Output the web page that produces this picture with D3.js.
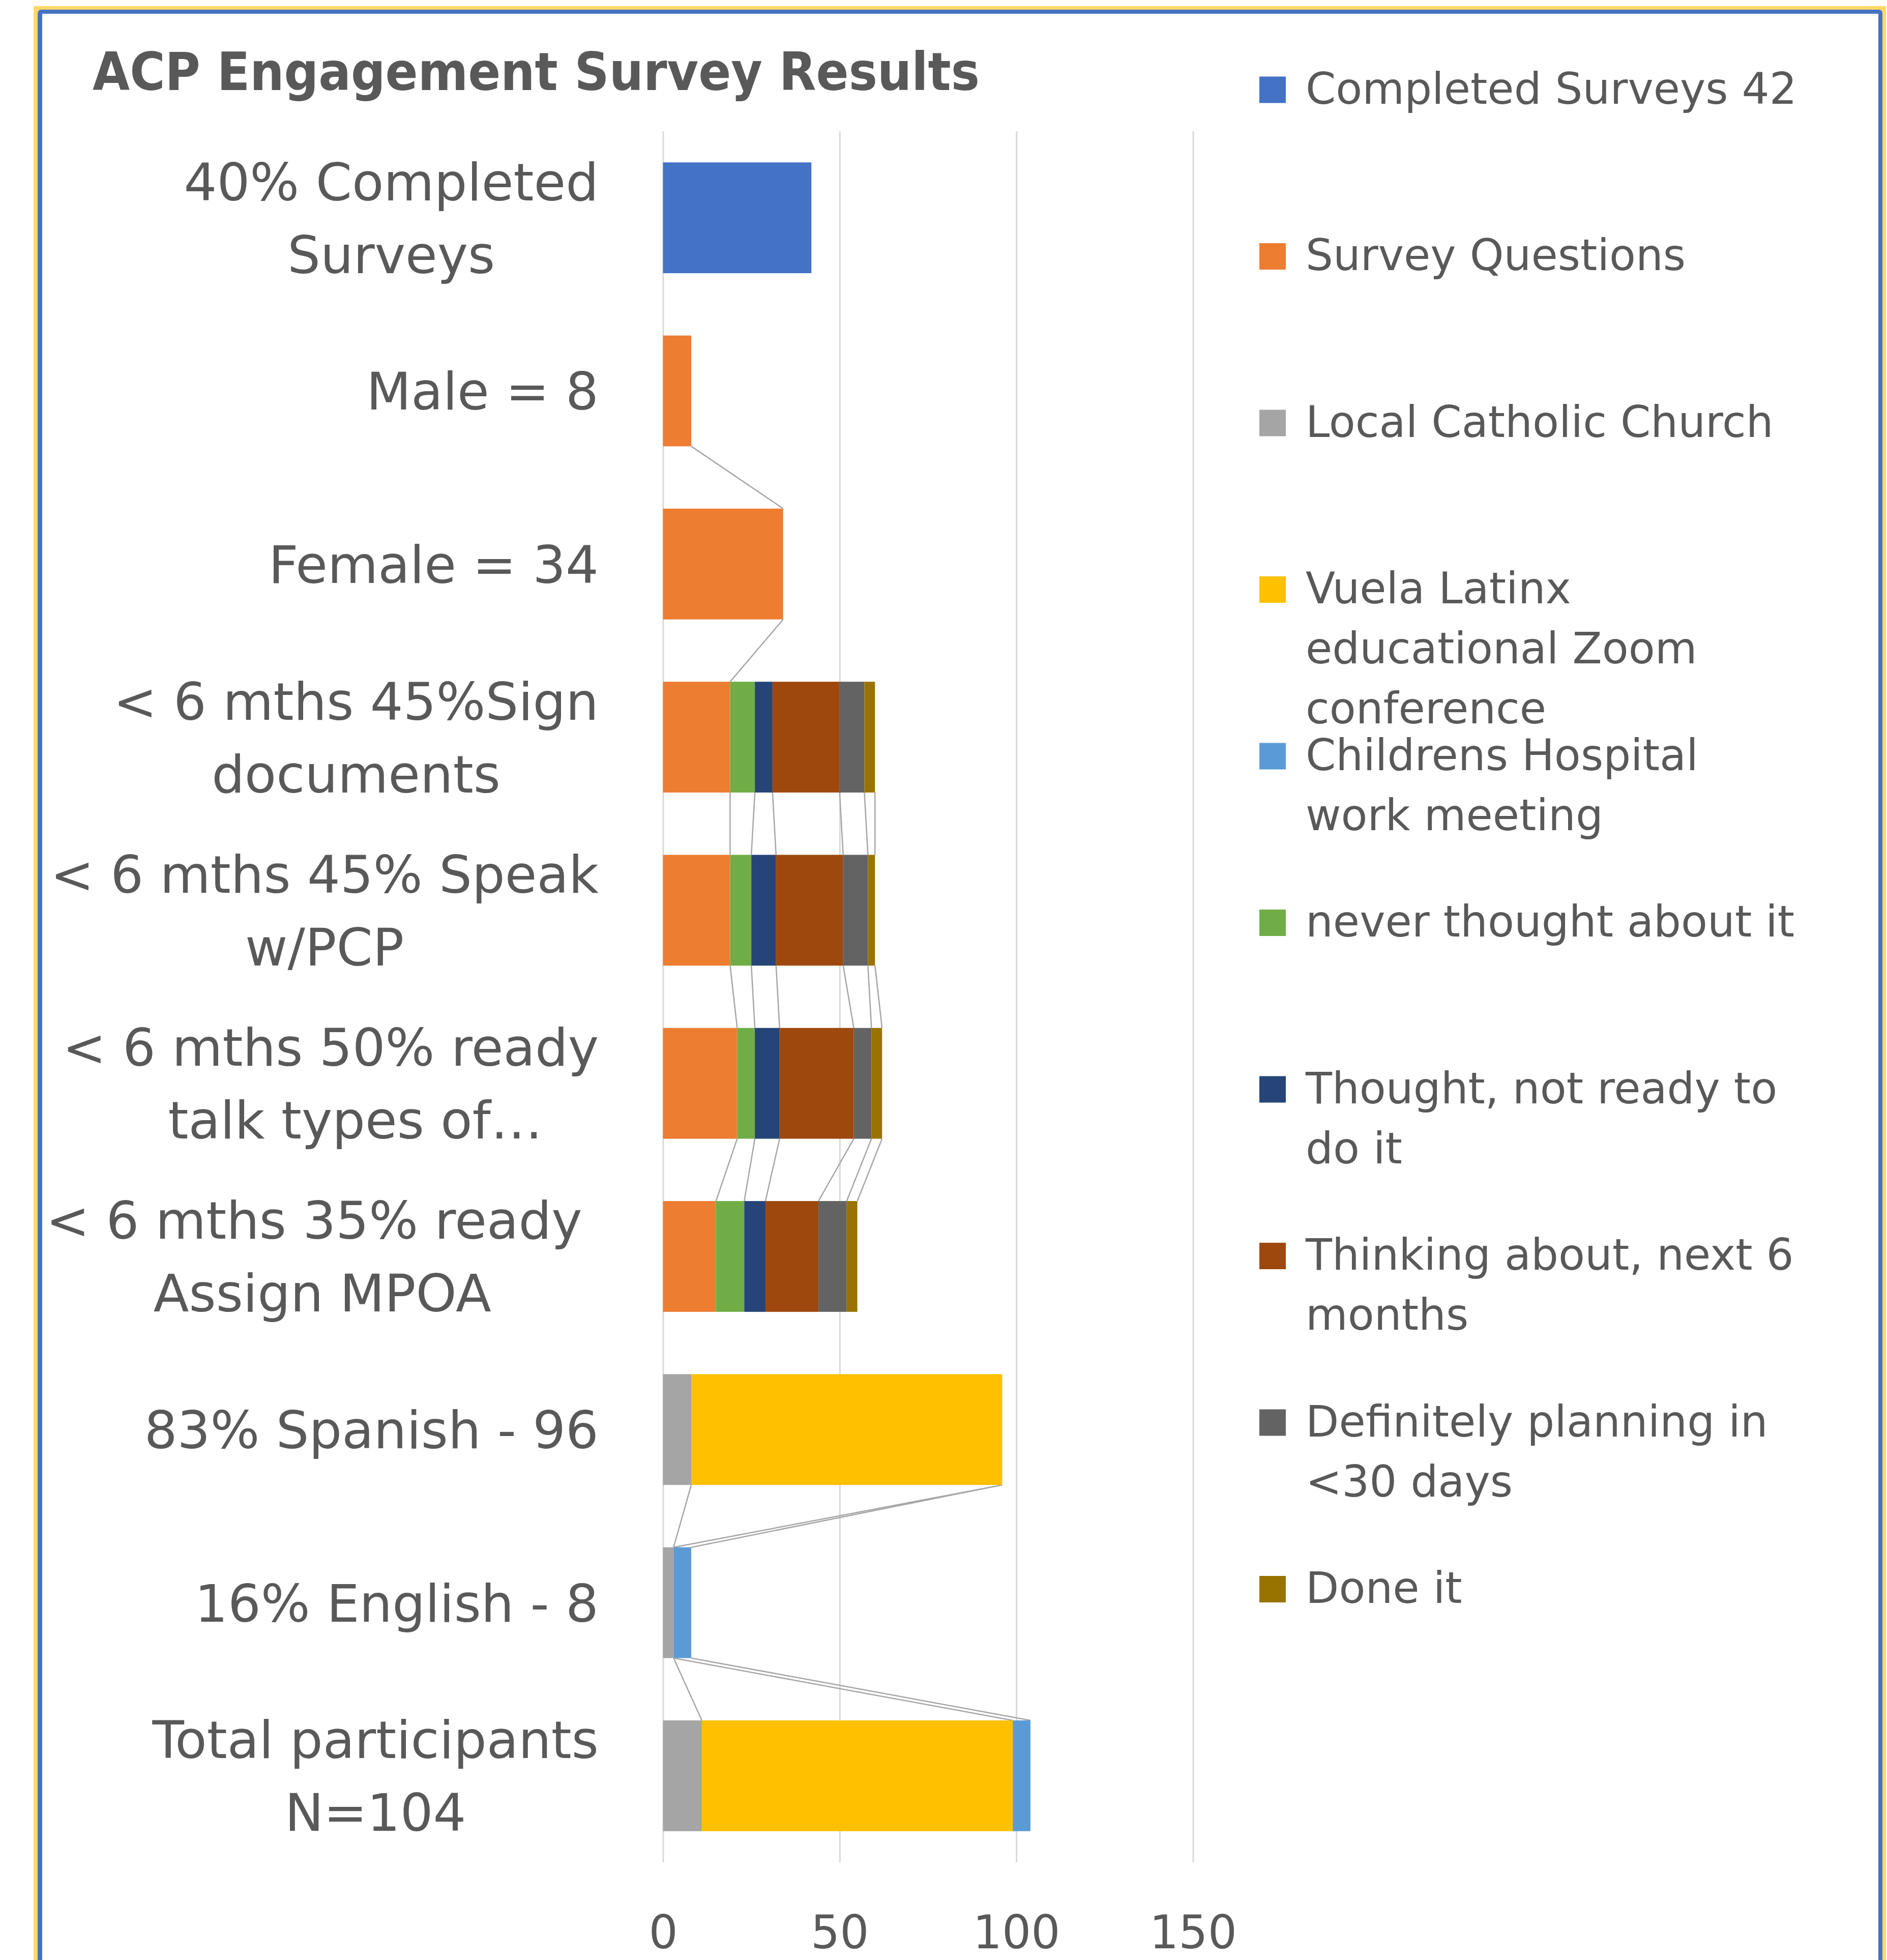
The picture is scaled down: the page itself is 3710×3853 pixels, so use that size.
<!DOCTYPE html>
<html><head><meta charset="utf-8">
<script src="https://cdn.jsdelivr.net/npm/d3@7"></script>
<style>html,body{margin:0;padding:0;background:#fff;}</style>
</head><body>
<script>
// ---- data ----
const categories = ["40% Completed Surveys","Male = 8","Female = 34","< 6 mths 45%Sign documents","< 6 mths 45% Speak w/PCP","< 6 mths 50% ready talk types of…","< 6 mths 35% ready Assign MPOA","83% Spanish - 96","16% English - 8","Total participants N=104"];
const categoryLines = [["40% Completed","Surveys"],["Male = 8"],["Female = 34"],["< 6 mths 45%Sign","documents"],["< 6 mths 45% Speak","w/PCP"],["< 6 mths 50% ready","\u00a0\u00a0\u00a0talk types of…"],["< 6 mths 35% ready\u00a0","Assign MPOA"],["83% Spanish - 96"],["16% English - 8"],["Total participants","N=104"]];
const seriesNames = ["Completed Surveys 42","Survey Questions","Local Catholic Church","Vuela Latinx educational Zoom conference","Childrens Hospital work meeting","never thought about it","Thought, not ready to do it","Thinking about, next 6 months","Definitely planning in <30 days","Done it"];
const legendLines = [["Completed Surveys 42"],["Survey Questions"],["Local Catholic Church"],["Vuela Latinx","educational Zoom","conference"],["Childrens Hospital","work meeting"],["never thought about it"],["Thought, not ready to","do it"],["Thinking about, next 6","months"],["Definitely planning in","<30 days"],["Done it"]];
const seriesColors = ["#4472C4","#ED7D31","#A5A5A5","#FFC000","#5B9BD5","#70AD47","#264478","#9E480E","#636363","#997300"];
const completed  = [42,null,null,null,null,null,null,null,null,null];
const surveyQ    = [null,8,34,19,19,21,15,null,null,null];
const catholic   = [null,null,null,null,null,null,null,8,3,11];
const vuela      = [null,null,null,null,null,null,null,88,0,88];
const childrens  = [null,null,null,null,null,null,null,0,5,5];
const neverThought = [null,null,null,7,6,5,8,null,null,null];
const thoughtNotReady = [null,null,null,5,7,7,6,null,null,null];
const thinking   = [null,null,null,19,19,21,15,null,null,null];
const definitely = [null,null,null,7,7,5,8,null,null,null];
const doneIt     = [null,null,null,3,2,3,3,null,null,null];
const xTicks = [0,50,100,150];
const title = "ACP Engagement Survey Results";

const seriesValues = [completed,surveyQ,catholic,vuela,childrens,neverThought,thoughtNotReady,thinking,definitely,doneIt];

// ---- layout ----
const W = 3710, H = 3853;
const FONT = "DejaVu Sans";
const TXT = "#595959";
const svg = d3.select("body").append("svg").attr("width",W).attr("height",H);

// border frame
svg.append("rect").attr("x",66).attr("y",12).attr("width",3642).attr("height",4200).attr("fill","#FFD966");
svg.append("rect").attr("x",74).attr("y",19).attr("width",3627).attr("height",4200).attr("rx",7).attr("fill","#4472C4");
svg.append("rect").attr("x",83).attr("y",27).attr("width",3610).attr("height",4200).attr("fill","#fff");

const plotTop = 258, plotBottom = 3661;
const x = d3.scaleLinear().domain([0,150]).range([1303.5,2345.5]);
const y = d3.scaleBand().domain(categories).range([plotTop,plotBottom]).paddingInner(0.36).paddingOuter(0.18);
const bw = y.bandwidth();

// gridlines + tick labels
const ax = svg.append("g").attr("transform",`translate(0,${plotBottom})`)
  .call(d3.axisBottom(x).tickValues(xTicks).tickSize(-(plotBottom-plotTop)).tickFormat(d3.format("d")));
ax.select(".domain").remove();
ax.selectAll(".tick line").attr("stroke","#d9d9d9").attr("stroke-width",3);
ax.selectAll(".tick text").attr("y",169).attr("dy",0).attr("fill",TXT)
  .attr("font-family",FONT).attr("font-size",90);

// stacked data
const n = categories.length;
const starts = [], ends = [];
for (let k=0;k<seriesValues.length;k++){ starts.push([]); ends.push([]); }
for (let i=0;i<n;i++){
  let acc = 0;
  for (let k=0;k<seriesValues.length;k++){
    const v = seriesValues[k][i];
    starts[k][i] = acc;
    acc += (v==null?0:v);
    ends[k][i] = acc;
  }
}

// series lines
const lineG = svg.append("g");
for (let k=0;k<seriesValues.length;k++){
  for (let i=0;i<n-1;i++){
    if (seriesValues[k][i]!=null && seriesValues[k][i+1]!=null){
      lineG.append("line")
        .attr("x1",x(ends[k][i])).attr("y1",y(categories[i])+bw)
        .attr("x2",x(ends[k][i+1])).attr("y2",y(categories[i+1]))
        .attr("stroke","#a6a6a6").attr("stroke-width",2.5);
    }
  }
}

// bars
const barG = svg.append("g");
for (let k=0;k<seriesValues.length;k++){
  const g = barG.append("g").attr("fill",seriesColors[k]);
  categories.forEach((c,i)=>{
    const v = seriesValues[k][i];
    if (v==null || v===0) return;
    g.append("rect").attr("x",x(starts[k][i])).attr("y",y(c))
      .attr("width",x(ends[k][i])-x(starts[k][i])).attr("height",bw);
  });
}

// category labels (right-aligned block, centered lines)
const labelRight = 1177, labelFS = 102, labelLH = 143;
categories.forEach((c,i)=>{
  const lines = categoryLines[i];
  const cy = y(c)+bw/2;
  const g = svg.append("g");
  const texts = lines.map((ln,j)=> g.append("text").text(ln)
      .attr("font-family",FONT).attr("font-size",labelFS).attr("fill",TXT)
      .attr("text-anchor","middle").style("white-space","pre")
      .attr("y", cy - (lines.length-1)*labelLH/2 + j*labelLH + 37));
  const maxW = d3.max(texts, t=>t.node().getComputedTextLength());
  texts.forEach(t=>t.attr("x", labelRight - maxW/2));
});

// title
svg.append("text").text(title).attr("x",182).attr("y",177)
  .attr("font-family",FONT).attr("font-weight","bold").attr("font-size",103)
  .attr("textLength",1744).attr("lengthAdjust","spacingAndGlyphs").attr("fill",TXT);

// legend
const legX = 2476, legTextX = 2567, legStart = 176.5, legStep = 327.5, legFS = 85, legLH = 118;
seriesNames.forEach((name,k)=>{
  const cy = legStart + k*legStep;
  const g = svg.append("g");
  g.append("rect").attr("x",legX).attr("y",cy-26).attr("width",52).attr("height",52).attr("fill",seriesColors[k]);
  legendLines[k].forEach((ln,j)=>{
    g.append("text").text(ln).attr("x",legTextX).attr("y",cy+27+j*legLH)
      .attr("font-family",FONT).attr("font-size",legFS).attr("fill",TXT);
  });
});
</script>
</body></html>
